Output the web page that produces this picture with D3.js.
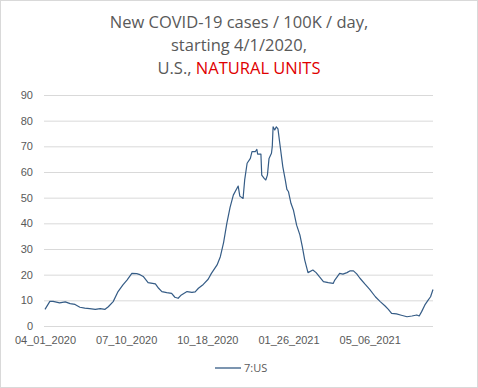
<!DOCTYPE html>
<html>
<head>
<meta charset="utf-8">
<script src="https://cdn.jsdelivr.net/npm/d3@7"></script>
<style>
  body { margin: 0; background: #fff; }
  svg { display: block; font-family: "Open Sans", "Noto Sans", sans-serif; }
</style>
</head>
<body>
<div id="plot"></div>
<script>
// days since 04_01_2020, and 7-day avg new cases per 100K
const days = [0, 6, 10, 18, 25, 31, 37, 43, 49, 55, 62, 68, 74, 78, 84, 90, 96, 101, 107, 113,
  117, 121, 127, 136, 140, 144, 150, 156, 160, 164, 168, 175, 181, 185, 189, 195, 201, 205, 212, 216,
  220, 224, 228, 232, 236, 238, 240, 244, 246, 249, 253, 255, 259, 261, 262, 266, 267, 270, 272, 274,
  276, 279, 280, 281, 283, 285, 287, 289, 293, 296, 298, 300, 303, 306, 310, 314, 317, 320, 324, 330,
  334, 338, 343, 349, 355, 357, 363, 367, 372, 376, 380, 384, 388, 394, 400, 407, 413, 419, 423, 427,
  433, 439, 446, 452, 458, 461, 464, 468, 472, 475, 478];
const cases = [6.5, 9.6, 9.6, 9.0, 9.4, 8.7, 8.4, 7.3, 7.0, 6.8, 6.5, 6.8, 6.5, 7.5, 9.5, 13.4, 16.0, 17.9, 20.5, 20.4,
  20.0, 19.3, 16.9, 16.4, 14.7, 13.4, 13.0, 12.7, 11.2, 10.8, 12.1, 13.4, 13.1, 13.3, 14.7, 16.2, 18.2, 20.5, 23.8, 27.0,
  32.5, 40.0, 46.2, 51.0, 53.4, 54.5, 50.6, 49.7, 56.9, 63.4, 65.3, 67.9, 67.9, 68.8, 67.0, 67.0, 58.8, 57.5, 56.9, 58.8,
  65.3, 67.3, 70.0, 77.6, 76.4, 77.6, 76.8, 71.8, 62.0, 56.9, 53.2, 52.3, 47.8, 45.2, 39.3, 35.5, 30.9, 25.7, 20.8, 21.8,
  20.8, 19.2, 17.3, 16.9, 16.6, 17.9, 20.5, 20.2, 20.8, 21.5, 21.5, 20.3, 18.6, 16.4, 14.3, 11.4, 9.5, 7.8, 6.5, 4.9,
  4.7, 4.2, 3.6, 3.9, 4.3, 3.9, 5.6, 8.2, 10.1, 11.4, 14.2];
const xTicks = [0, 100, 200, 300, 400];
const xTickLabels = ["04_01_2020", "07_10_2020", "10_18_2020", "01_26_2021", "05_06_2021"];
const yTicks = [0, 10, 20, 30, 40, 50, 60, 70, 80, 90];

const width = 478, height = 388;
const margin = {top: 95, right: 45, bottom: 62, left: 45};

const svg = d3.select("#plot").append("svg")
  .attr("width", width)
  .attr("height", height);

// outer frame
svg.append("rect")
  .attr("x", 0.5).attr("y", 0.5)
  .attr("width", width - 1).attr("height", height - 1)
  .attr("fill", "#fff").attr("stroke", "#d9d9d9");

const x = d3.scaleLinear([0, 478], [margin.left, width - margin.right]);
const y = d3.scaleLinear([0, 90], [height - margin.bottom, margin.top]);

// gridlines + y labels
const yAxis = svg.append("g")
  .attr("transform", `translate(${margin.left - 1},0)`)
  .call(d3.axisLeft(y).tickValues(yTicks).tickSize(-(width - margin.left - margin.right + 1)).tickPadding(11));
yAxis.select(".domain").remove();
yAxis.selectAll("line").attr("stroke", "#d9d9d9");
yAxis.selectAll("text").attr("fill", "#595959").style("font-size", "11px");

// x labels
const xAxis = svg.append("g")
  .attr("transform", `translate(0,${height - margin.bottom})`)
  .call(d3.axisBottom(x).tickValues(xTicks).tickFormat((d, i) => xTickLabels[i]).tickSize(0).tickPadding(10));
xAxis.select(".domain").remove();
xAxis.selectAll("text").attr("fill", "#595959").style("font-size", "11px");

// the series
const line = d3.line()
  .x((d, i) => x(days[i]))
  .y(d => y(d));
svg.append("path")
  .datum(cases)
  .attr("fill", "none")
  .attr("stroke", "#355c86")
  .attr("stroke-width", 1.2)
  .attr("stroke-linejoin", "round")
  .attr("d", line);

// title
const title = svg.append("text")
  .attr("text-anchor", "middle")
  .attr("fill", "#595959")
  .style("font-size", "16.5px");
title.append("tspan").attr("x", 239).attr("y", 28).text("New COVID-19 cases / 100K / day,");
title.append("tspan").attr("x", 239).attr("y", 51).text("starting 4/1/2020,");
const t3 = title.append("tspan").attr("x", 239).attr("y", 74);
t3.append("tspan").text("U.S., ");
t3.append("tspan").attr("fill", "#e00000").text("NATURAL UNITS");

// legend
const legend = svg.append("g").attr("transform", "translate(215,368)");
legend.append("line")
  .attr("x1", 0).attr("x2", 26)
  .attr("stroke", "#355c86").attr("stroke-width", 1.3);
legend.append("text")
  .attr("x", 29).attr("y", 4)
  .attr("fill", "#595959")
  .style("font-size", "11px")
  .text("7:US");
</script>
</body>
</html>
